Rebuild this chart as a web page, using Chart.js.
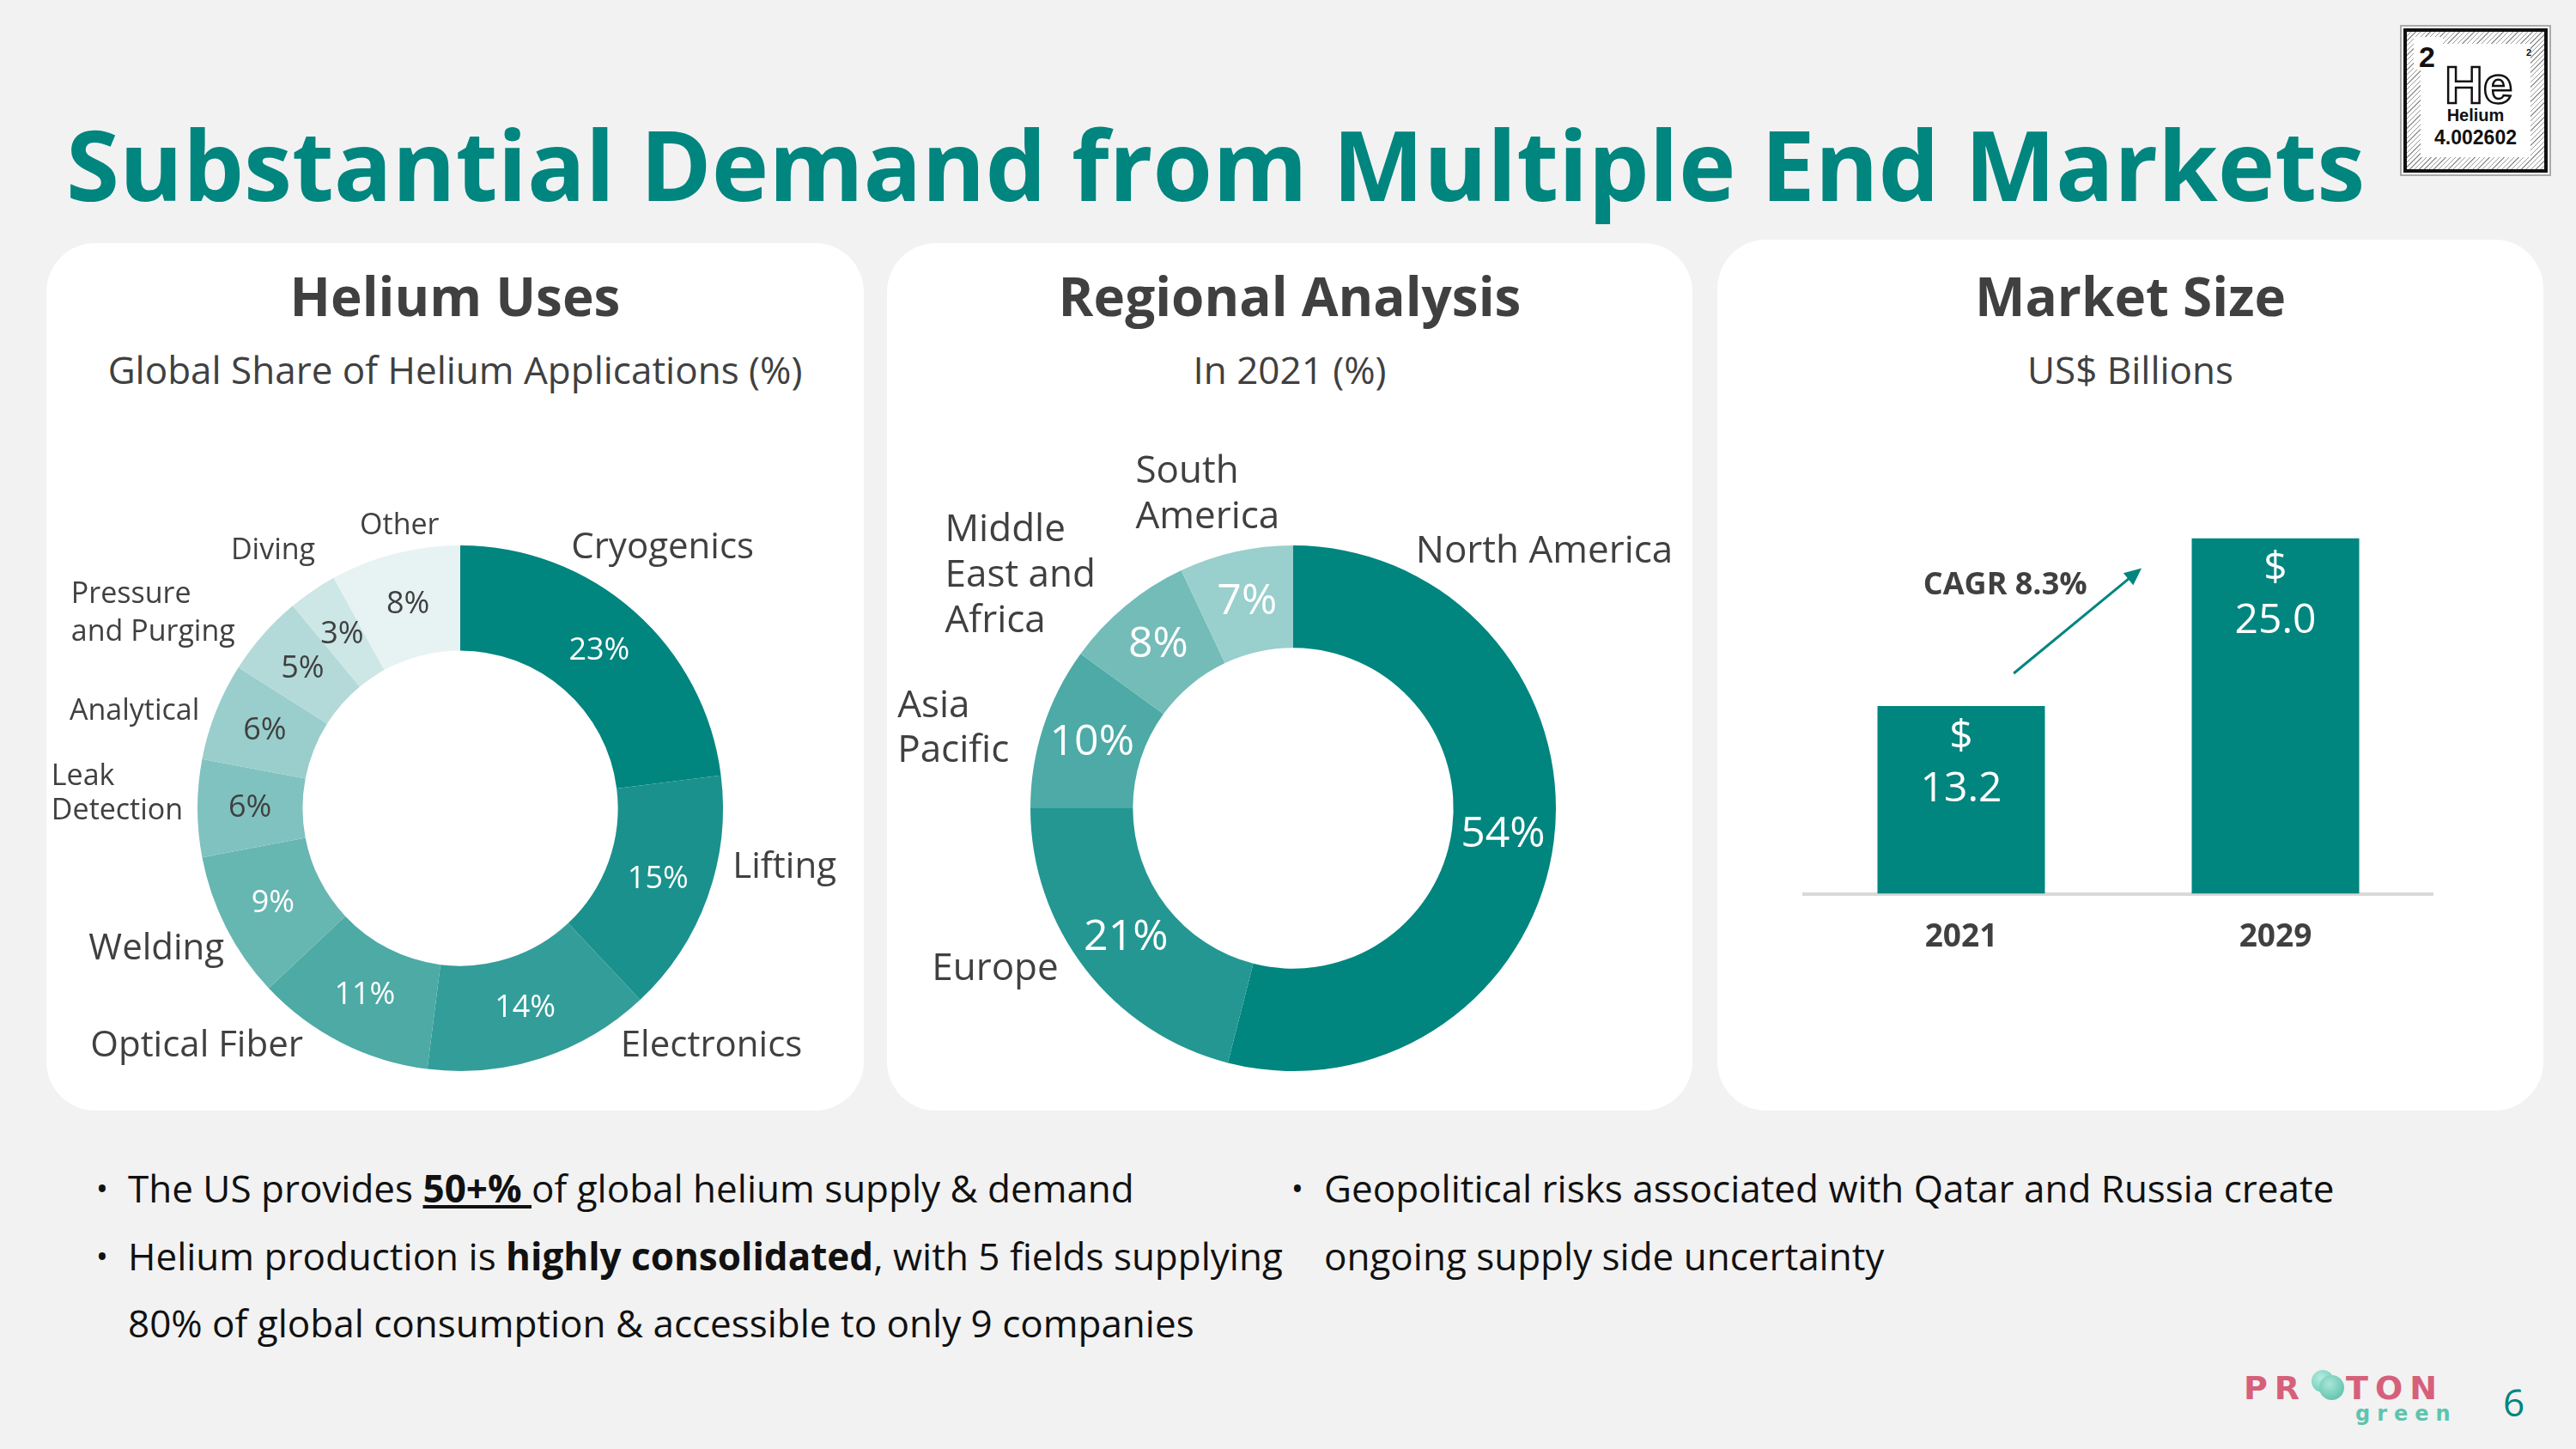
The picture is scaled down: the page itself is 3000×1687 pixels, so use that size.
<!DOCTYPE html>
<html>
<head>
<meta charset="utf-8">
<script src="https://cdn.jsdelivr.net/npm/chart.js@4.4.1/dist/chart.umd.min.js"></script>
<style>
  body { margin: 0; width: 3000px; height: 1687px; background: #f2f2f2; position: relative; overflow: hidden; font-family: "Open Sans", sans-serif; color: #404040; }
  .t { position: absolute; white-space: nowrap; line-height: 1; }
  .panel { position: absolute; background: #fff; border-radius: 57px; }
  .panel .box { position: absolute; left: 0; top: 0; right: 0; bottom: 0; }
  .ptitle { position: absolute; left: 0; right: 0; text-align: center; font-weight: 700; font-size: 62px; line-height: 1; transform: translateY(-50%); }
  .psub { position: absolute; left: 0; right: 0; text-align: center; font-size: 44px; line-height: 1; transform: translateY(-50%); }
  .bl { position: absolute; font-size: 44px; line-height: 1; white-space: nowrap; color: #111; transform: translateY(-50%); }
  .dot { position: absolute; font-size: 38px; line-height: 1; color: #111; transform: translate(-50%, -50%); }
</style>
</head>
<body>
<div class="t" style="left:77px;top:191px;transform:translateY(-50%);font-size:112.5px;font-weight:700;color:#00857f;">Substantial Demand from Multiple End Markets</div>

<!-- helium element tile -->
<div style="position:absolute;left:2795px;top:29px;width:176px;height:176px;background:#fff;border:2px solid #aaa;box-sizing:border-box;">
  <div style="position:absolute;left:2px;top:2px;right:2px;bottom:2px;border:4px solid #111;background:repeating-linear-gradient(135deg,#fff 0 3px,#999 3px 4px);">
    <div style="position:absolute;left:16px;top:14px;right:16px;bottom:14px;background:#fff;"></div>
    <div style="position:absolute;left:8px;top:6px;width:34px;height:38px;background:#fff;"></div>
  </div>
  <div class="t" style="left:20px;top:16px;font:700 34px 'Liberation Sans';color:#111;">2</div>
  <div class="t" style="left:145px;top:24px;font:700 11px 'Liberation Sans';color:#111;">2</div>
  <div class="t" style="left:50px;top:32px;font:700 62px 'Liberation Sans';color:#fff;-webkit-text-stroke:2.5px #111;">He</div>
  <div class="t" style="left:0;right:0;top:92px;text-align:center;font:700 20px 'Liberation Sans';color:#111;">Helium</div>
  <div class="t" style="left:0;right:0;top:116px;text-align:center;font:700 23px 'Liberation Sans';color:#111;">4.002602</div>
</div>

<div class="panel" style="left:54px;top:283px;width:952px;height:1010px;">
  <div class="ptitle" style="top:61px;">Helium Uses</div>
  <div class="psub" style="top:147px;">Global Share of Helium Applications (%)</div>
  <div class="box"><canvas id="uses"></canvas></div>
</div>
<div class="panel" style="left:1033px;top:283px;width:938px;height:1010px;">
  <div class="ptitle" style="top:61px;">Regional Analysis</div>
  <div class="psub" style="top:147px;">In 2021 (%)</div>
  <div class="box"><canvas id="region"></canvas></div>
</div>
<div class="panel" style="left:2000px;top:279px;width:962px;height:1014px;">
  <div class="ptitle" style="top:65px;">Market Size</div>
  <div class="psub" style="top:151px;">US$ Billions</div>
  <div class="box"><canvas id="market"></canvas></div>
</div>

<div class="dot" style="left:119px;top:1383px;">•</div>
<div class="bl" style="left:149px;top:1383px;">The US provides <b><u>50+% </u></b>of global helium supply &amp; demand</div>
<div class="dot" style="left:119px;top:1462px;">•</div>
<div class="bl" style="left:149px;top:1462px;">Helium production is <b>highly consolidated</b>, with 5 ﬁelds supplying</div>
<div class="bl" style="left:149px;top:1540px;">80% of global consumption &amp; accessible to only 9 companies</div>
<div class="dot" style="left:1511px;top:1383px;">•</div>
<div class="bl" style="left:1542px;top:1383px;">Geopolitical risks associated with Qatar and Russia create</div>
<div class="bl" style="left:1542px;top:1462px;">ongoing supply side uncertainty</div>

<!-- logo + page number -->
<div class="t" style="left:2613px;top:1594px;font:700 38px 'DejaVu Sans';letter-spacing:8px;color:#d6607a;">PR</div>
<div class="t" style="left:2732px;top:1594px;font:700 38px 'DejaVu Sans';letter-spacing:8px;color:#d6607a;">TON</div>
<div style="position:absolute;left:2692px;top:1595px;width:26px;height:26px;border-radius:50%;background:radial-gradient(circle at 40% 35%,#b5ece0,#5cc4ae);"></div>
<div style="position:absolute;left:2701px;top:1601px;width:29px;height:29px;border-radius:50%;background:radial-gradient(circle at 40% 35%,#a8e6d8,#4fb9a3);"></div>
<div class="t" style="left:2743px;top:1632px;font:700 24px 'DejaVu Sans';letter-spacing:8px;color:#5ec4ae;">green</div>
<div class="t" style="left:2915px;top:1610px;font-size:44px;color:#00857f;">6</div>

<script>
// Helium uses, global share (%)
const useLabels = ['Cryogenics', 'Lifting', 'Electronics', 'Optical Fiber', 'Welding',
  ['Leak', 'Detection'], 'Analytical', ['Pressure', 'and Purging'], 'Diving', 'Other'];
const useShares = [23, 15, 14, 11, 9, 6, 6, 5, 3, 8];

// Regional analysis, 2021 (%)
const regionLabels = ['North America', 'Europe', ['Asia', 'Pacific'], ['Middle', 'East and', 'Africa'], ['South', 'America']];
const regionShares = [54, 21, 10, 8, 7];

// Market size, US$ billions
const marketYears = ['2021', '2029'];
const marketSize = [13.2, 25.0];

const TEAL = '#00857f';
Chart.defaults.font.family = '"Open Sans", sans-serif';

// label placement around each ring, in units of the outer radius
const useLabelLayout = [
  { dx: 0.77, dy: -0.99, align: 'center', size: 42 },
  { dx: 1.234, dy: 0.225, align: 'center', size: 42 },
  { dx: 0.956, dy: 0.906, align: 'center', size: 42 },
  { dx: -1.003, dy: 0.906, align: 'center', size: 42 },
  { dx: -1.156, dy: 0.5375, align: 'center', size: 42 },
  { dx: -1.556, dy: -0.119, align: 'left', size: 34, lh: 0.131 },
  { dx: -1.24, dy: -0.369, align: 'center', size: 34 },
  { dx: -1.481, dy: -0.8125, align: 'left', size: 34, lh: 0.144 },
  { dx: -0.7125, dy: -0.981, align: 'center', size: 34 },
  { dx: -0.231, dy: -1.075, align: 'center', size: 34 }
];
const regionLabelLayout = [
  { dx: 0.956, dy: -0.975, align: 'center', size: 44 },
  { dx: -1.134, dy: 0.6125, align: 'center', size: 44 },
  { dx: -1.506, dy: -0.3875, align: 'left', size: 44, lh: 0.169 },
  { dx: -1.325, dy: -1.056, align: 'left', size: 44, lh: 0.172 },
  { dx: -0.6, dy: -1.281, align: 'left', size: 44, lh: 0.175 }
];

const ringLabels = {
  id: 'ringLabels',
  afterDatasetsDraw(chart, args, opts) {
    const ctx = chart.ctx;
    const meta = chart.getDatasetMeta(0);
    const values = chart.data.datasets[0].data;
    ctx.save();
    ctx.textBaseline = 'middle';
    meta.data.forEach((arc, i) => {
      const p = arc.tooltipPosition();
      ctx.textAlign = 'center';
      ctx.font = opts.pctSize + 'px "Open Sans"';
      ctx.fillStyle = opts.pctColors[i];
      ctx.fillText(values[i] + '%', p.x, p.y);

      const L = opts.layout[i];
      const lines = [].concat(chart.data.labels[i]);
      ctx.textAlign = L.align;
      ctx.font = L.size + 'px "Open Sans"';
      ctx.fillStyle = '#404040';
      const R = arc.outerRadius;
      lines.forEach((t, k) => {
        ctx.fillText(t, arc.x + L.dx * R, arc.y + (L.dy + k * (L.lh || 0)) * R);
      });
    });
    ctx.restore();
  }
};

function donut(id, labels, values, colors, pad, cutout, pluginOpts) {
  new Chart(document.getElementById(id), {
    type: 'doughnut',
    data: {
      labels: labels,
      datasets: [{ data: values, backgroundColor: colors, borderWidth: 0 }]
    },
    options: {
      responsive: true,
      maintainAspectRatio: false,
      animation: false,
      cutout: cutout,
      layout: { padding: pad },
      plugins: { legend: { display: false }, tooltip: { enabled: false }, ringLabels: pluginOpts }
    },
    plugins: [ringLabels]
  });
}

donut('uses', useLabels, useShares,
  ['#00857f', '#1a918c', '#339d99', '#4daaa5', '#66b6b2', '#80c2bf', '#99cecc', '#b3dad9', '#cce7e5', '#e6f3f2'],
  { left: 176, right: 164, top: 352, bottom: 46 }, '60%',
  { pctSize: 36, layout: useLabelLayout,
    pctColors: ['#fff', '#fff', '#fff', '#fff', '#fff', '#404040', '#404040', '#404040', '#404040', '#404040'] });

donut('region', regionLabels, regionShares,
  ['#00857f', '#249792', '#4daaa6', '#73bcb8', '#99cfcc'],
  { left: 167, right: 159, top: 352, bottom: 46 }, '61%',
  { pctSize: 50, layout: regionLabelLayout, pctColors: ['#fff', '#fff', '#fff', '#fff', '#fff'] });

const barNotes = {
  id: 'barNotes',
  afterDatasetsDraw(chart) {
    const ctx = chart.ctx;
    const x = chart.scales.x, y = chart.scales.y;
    const meta = chart.getDatasetMeta(0);
    ctx.save();
    ctx.textAlign = 'center';
    ctx.textBaseline = 'middle';
    ctx.fillStyle = '#fff';
    ctx.font = '48px "Open Sans"';
    meta.data.forEach((bar, i) => {
      ctx.fillText('$', bar.x, bar.y + 36);
      ctx.fillText(marketSize[i].toFixed(1), bar.x, bar.y + 97);
    });

    ctx.fillStyle = '#404040';
    ctx.font = 'bold 36px "Open Sans"';
    ctx.fillText('CAGR 8.3%', x.getPixelForValue(0.14), y.getPixelForValue(21.7));

    // growth arrow
    const x0 = x.getPixelForValue(0.167), y0 = y.getPixelForValue(15.5);
    const x1 = x.getPixelForValue(0.574), y1 = y.getPixelForValue(22.9);
    const a = Math.atan2(y1 - y0, x1 - x0);
    ctx.strokeStyle = TEAL;
    ctx.fillStyle = TEAL;
    ctx.lineWidth = 3;
    ctx.beginPath();
    ctx.moveTo(x0, y0);
    ctx.lineTo(x1 - 12 * Math.cos(a), y1 - 12 * Math.sin(a));
    ctx.stroke();
    ctx.beginPath();
    ctx.moveTo(x1, y1);
    ctx.lineTo(x1 - 20 * Math.cos(a) + 9 * Math.sin(a), y1 - 20 * Math.sin(a) - 9 * Math.cos(a));
    ctx.lineTo(x1 - 20 * Math.cos(a) - 9 * Math.sin(a), y1 - 20 * Math.sin(a) + 9 * Math.cos(a));
    ctx.closePath();
    ctx.fill();
    ctx.restore();
  }
};

new Chart(document.getElementById('market'), {
  type: 'bar',
  data: {
    labels: marketYears,
    datasets: [{
      data: marketSize,
      backgroundColor: TEAL,
      categoryPercentage: 0.6,
      barPercentage: 0.888
    }]
  },
  options: {
    responsive: true,
    maintainAspectRatio: false,
    animation: false,
    layout: { padding: { left: 101, right: 129, top: 265, bottom: 150 } },
    scales: {
      x: {
        grid: { display: false, drawTicks: false },
        border: { display: true, color: '#d9d9d9', width: 4 },
        ticks: { padding: 29, color: '#404040', font: { size: 37, weight: 'bold' } }
      },
      y: { display: false, min: 0, max: 30 }
    },
    plugins: { legend: { display: false }, tooltip: { enabled: false } }
  },
  plugins: [barNotes]
});
</script>
</body>
</html>
